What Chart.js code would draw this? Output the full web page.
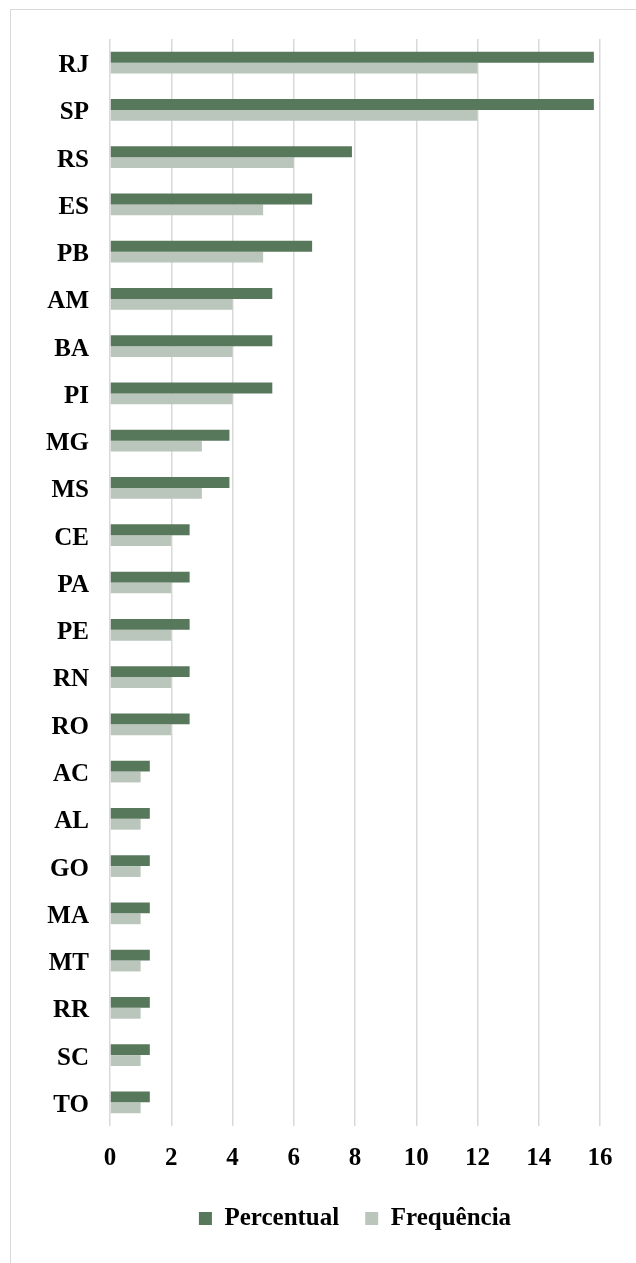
<!DOCTYPE html>
<html>
<head>
<meta charset="utf-8">
<script src="https://cdn.jsdelivr.net/npm/chart.js@4"></script>
<style>
  html, body { margin: 0; padding: 0; background: #fff; }
  #frame {
    position: absolute; left: 10px; top: 9px; width: 640px; height: 1270px;
    border-left: 1.5px solid #d9d9d9; border-top: 1.5px solid #d9d9d9;
  }
  #chart { position: absolute; left: 0; top: 0; }
</style>
</head>
<body>
<div id="frame"></div>
<canvas id="chart" width="636" height="1263"></canvas>
<script>
// states, top to bottom
const states = ['RJ', 'SP', 'RS', 'ES', 'PB', 'AM', 'BA', 'PI', 'MG', 'MS', 'CE', 'PA',
                'PE', 'RN', 'RO', 'AC', 'AL', 'GO', 'MA', 'MT', 'RR', 'SC', 'TO'];
const percentual = [15.8, 15.8, 7.9, 6.6, 6.6, 5.3, 5.3, 5.3, 3.9, 3.9, 2.6, 2.6,
                    2.6, 2.6, 2.6, 1.3, 1.3, 1.3, 1.3, 1.3, 1.3, 1.3, 1.3];
const frequencia = [12, 12, 6, 5, 5, 4, 4, 4, 3, 3, 2, 2,
                    2, 2, 2, 1, 1, 1, 1, 1, 1, 1, 1];
const xTicks = [0, 2, 4, 6, 8, 10, 12, 14, 16];

Chart.defaults.font.family = "'Liberation Serif', 'Times New Roman', serif";
Chart.defaults.font.weight = 'bold';
Chart.defaults.font.size = 25;
Chart.defaults.color = '#000';

const chart = new Chart(document.getElementById('chart'), {
    type: 'bar',
    data: {
        labels: states,
        datasets: [{
            label: 'Percentual',
            data: percentual,
            backgroundColor: '#58785c'
        }, {
            label: 'Frequência',
            data: frequencia,
            backgroundColor: '#bac6bc'
        }]
    },
    options: {
        indexAxis: 'y',
        responsive: false,
        animation: false,
        devicePixelRatio: 1,
        layout: { padding: { top: 39, right: 36, left: 0, bottom: 22 } },
        datasets: { bar: { categoryPercentage: 0.46, barPercentage: 1 } },
        scales: {
            x: {
                min: 0,
                max: 16,
                afterBuildTicks: function (scale) {
                    scale.ticks = xTicks.map(v => ({ value: v }));
                },
                // pull the legend a bit closer to the tick labels
                afterFit: function (scale) { scale.height -= 12; },
                grid: { color: '#d9d9d9', lineWidth: 1.5, drawTicks: false },
                border: { display: false },
                ticks: { padding: 18 }
            },
            y: {
                grid: { display: false, drawTicks: false },
                border: { display: false },
                ticks: { padding: 21, labelOffset: 3 },
                afterFit: function (scale) { scale.width = 110; }
            }
        },
        plugins: {
            legend: {
                position: 'bottom',
                fullSize: false,
                labels: { boxWidth: 13, boxHeight: 13, padding: 26 }
            },
            tooltip: { enabled: false }
        }
    }
});
</script>
</body>
</html>
